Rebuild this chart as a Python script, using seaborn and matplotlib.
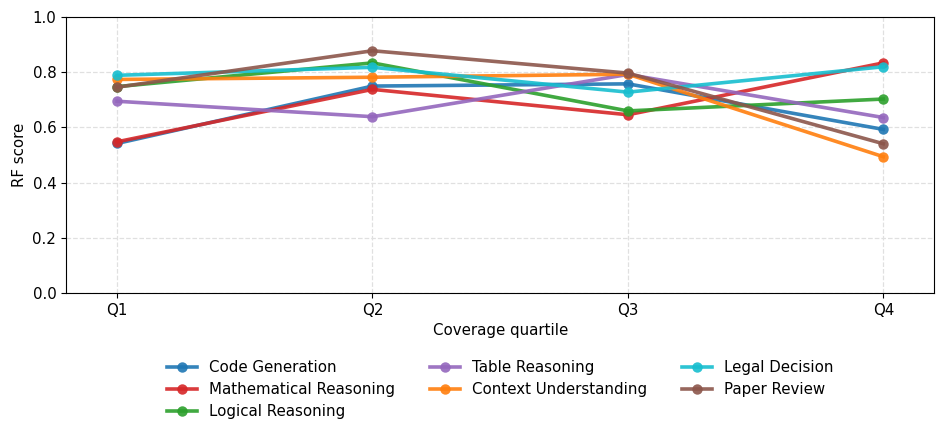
import pandas as pd
import matplotlib
matplotlib.use('Agg')
import matplotlib.pyplot as plt
import seaborn as sns

quartiles = ['Q1', 'Q2', 'Q3', 'Q4']
tasks = ['Code Generation', 'Mathematical Reasoning', 'Logical Reasoning',
         'Table Reasoning', 'Context Understanding', 'Legal Decision', 'Paper Review']
code_gen = [0.542, 0.750, 0.758, 0.593]
math_reason = [0.548, 0.738, 0.646, 0.834]
logical_reason = [0.748, 0.834, 0.660, 0.703]
table_reason = [0.695, 0.639, 0.792, 0.636]
context_und = [0.774, 0.782, 0.793, 0.494]
legal_dec = [0.789, 0.818, 0.728, 0.820]
paper_review = [0.746, 0.878, 0.797, 0.541]
colors = ['#1f77b4', '#d62728', '#2ca02c', '#9467bd', '#ff7f0e', '#17becf', '#8c564b']

series = [code_gen, math_reason, logical_reason, table_reason, context_und, legal_dec, paper_review]
rows = []
for t, vals in zip(tasks, series):
    for i, v in enumerate(vals):
        rows.append({'task': t, 'pos': i, 'score': v})
df = pd.DataFrame(rows)

plt.rcParams['font.size'] = 10.8
fig = plt.figure(figsize=(9.47, 4.38), dpi=100)
ax = fig.add_axes([0.0697, 0.331, 0.917, 0.630])
sns.lineplot(data=df, x='pos', y='score', hue='task', hue_order=tasks,
             palette=dict(zip(tasks, colors)), marker='o', markersize=7.5,
             markeredgewidth=0, linewidth=2.6, alpha=0.9, ax=ax)
ax.set_xticks(range(len(quartiles)))
ax.set_xticklabels(quartiles)
ax.set_xlim(-0.2, 3.2)
ax.set_ylim(0, 1.0)
ax.grid(True, linestyle='--', color='#e0e0e0', linewidth=0.9)
ax.set_axisbelow(True)
ax.set_xlabel('Coverage quartile')
ax.set_ylabel('RF score')
ax.legend(loc='upper center', bbox_to_anchor=(0.5, -0.195), ncol=3, frameon=False,
          handlelength=2.0, columnspacing=2.3, labelspacing=0.45)
fig.savefig('out.png', dpi=100)
